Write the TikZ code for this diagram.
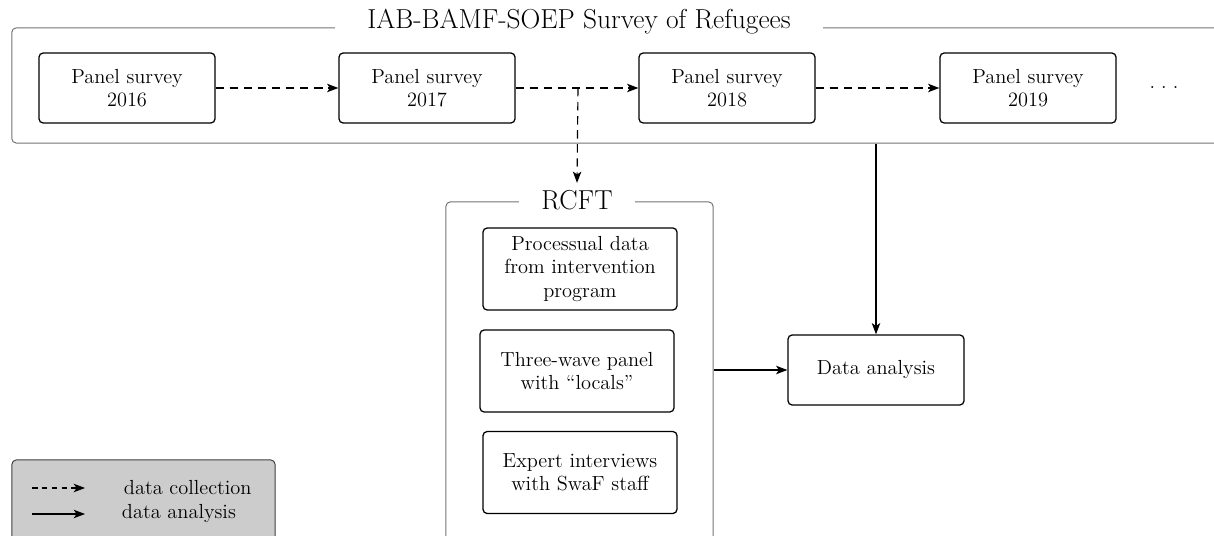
\documentclass[tikz,border=0pt]{standalone}
\usetikzlibrary{arrows.meta}
\begin{document}
\begin{tikzpicture}[x=0.025cm,y=-0.025cm,
        font=\fontsize{14.5}{16.5}\selectfont,
        frame/.style={draw=black!55,line width=0.7pt,rounded corners=3pt,inner sep=0pt},
        box/.style={draw,line width=0.9pt,rounded corners=3pt,align=center,
            minimum width=4.4cm,minimum height=1.75cm,inner sep=2pt},
        heading/.style={fill=white,inner ysep=1pt,font=\fontsize{19.5}{22}\selectfont},
        collect/.style={line width=0.8pt,dash pattern=on 6pt off 4pt,
            -{Stealth[length=8pt,width=6pt,inset=2pt]}},
        analyse/.style={line width=0.8pt,-{Stealth[length=8pt,width=6pt,inset=2pt]}}]
            \clip (0,0) rectangle (1214,536);
            % survey of refugees
            \node[frame,minimum width=30.45cm,minimum height=2.875cm] (soep) at (621,85.5) {};
            \node[heading,inner xsep=0.82cm] (soeptitle) at (579,22) {IAB-BAMF-SOEP Survey of Refugees};
            \foreach \yr/\x in {2016/127,2017/427,2018/727,2019/1028}
                \node[box] (p\yr) at (\x,88) {Panel survey\\\yr};
            \node (dots) at (1164,88) {.\hspace{0.3em}.\hspace{0.3em}.};
            % RCFT
            \node[frame,minimum width=6.675cm,minimum height=9.45cm] (rcftfr) at (579.5,391) {};
            \node[heading,inner xsep=0.57cm,inner ysep=5pt] (rcft) at (577,200) {RCFT};
            \node[box,minimum width=4.85cm,minimum height=2.05cm] (procdata) at (580,269) {Processual data\\from intervention\\program};
            \node[box,minimum width=4.85cm,minimum height=2.05cm] (locals) at (577,371) {Three-wave panel\\with ``locals''};
            \node[box,minimum width=4.85cm,minimum height=2.05cm] (experts) at (580,472.5) {Expert interviews\\with SwaF staff};
            \node[box] (analysis) at (876,370) {Data analysis};
            % connectors
            \coordinate (split) at (578,88);
            \draw[collect] (p2016) -- (p2017);
            \draw[collect] (p2017) -- (p2018);
            \draw[collect] (p2018) -- (p2019);
            \draw[collect] (split) -- (rcft.north);
            \draw[analyse] (soep.south -| analysis.north) -- (analysis);
            \draw[analyse] (rcftfr.east |- analysis) -- (analysis);
            % legend
            \node[frame,draw=black!75,fill=black!20,minimum width=6.575cm,minimum height=2.5cm] (legend) at (143.5,510) {};
            \coordinate (lc1) at (32,488);
            \coordinate (lc2) at (85,488);
            \coordinate (la1) at (32,514);
            \coordinate (la2) at (85,514);
            \draw[collect,dash pattern=on 4pt off 3pt] (lc1) -- (lc2);
            \draw[analyse] (la1) -- (la2);
            \node[anchor=west] (lcollect) at (119,488) {data collection};
            \node[anchor=west] (lanalyse) at (117,514) {data analysis};
        \end{tikzpicture}
\end{document}
